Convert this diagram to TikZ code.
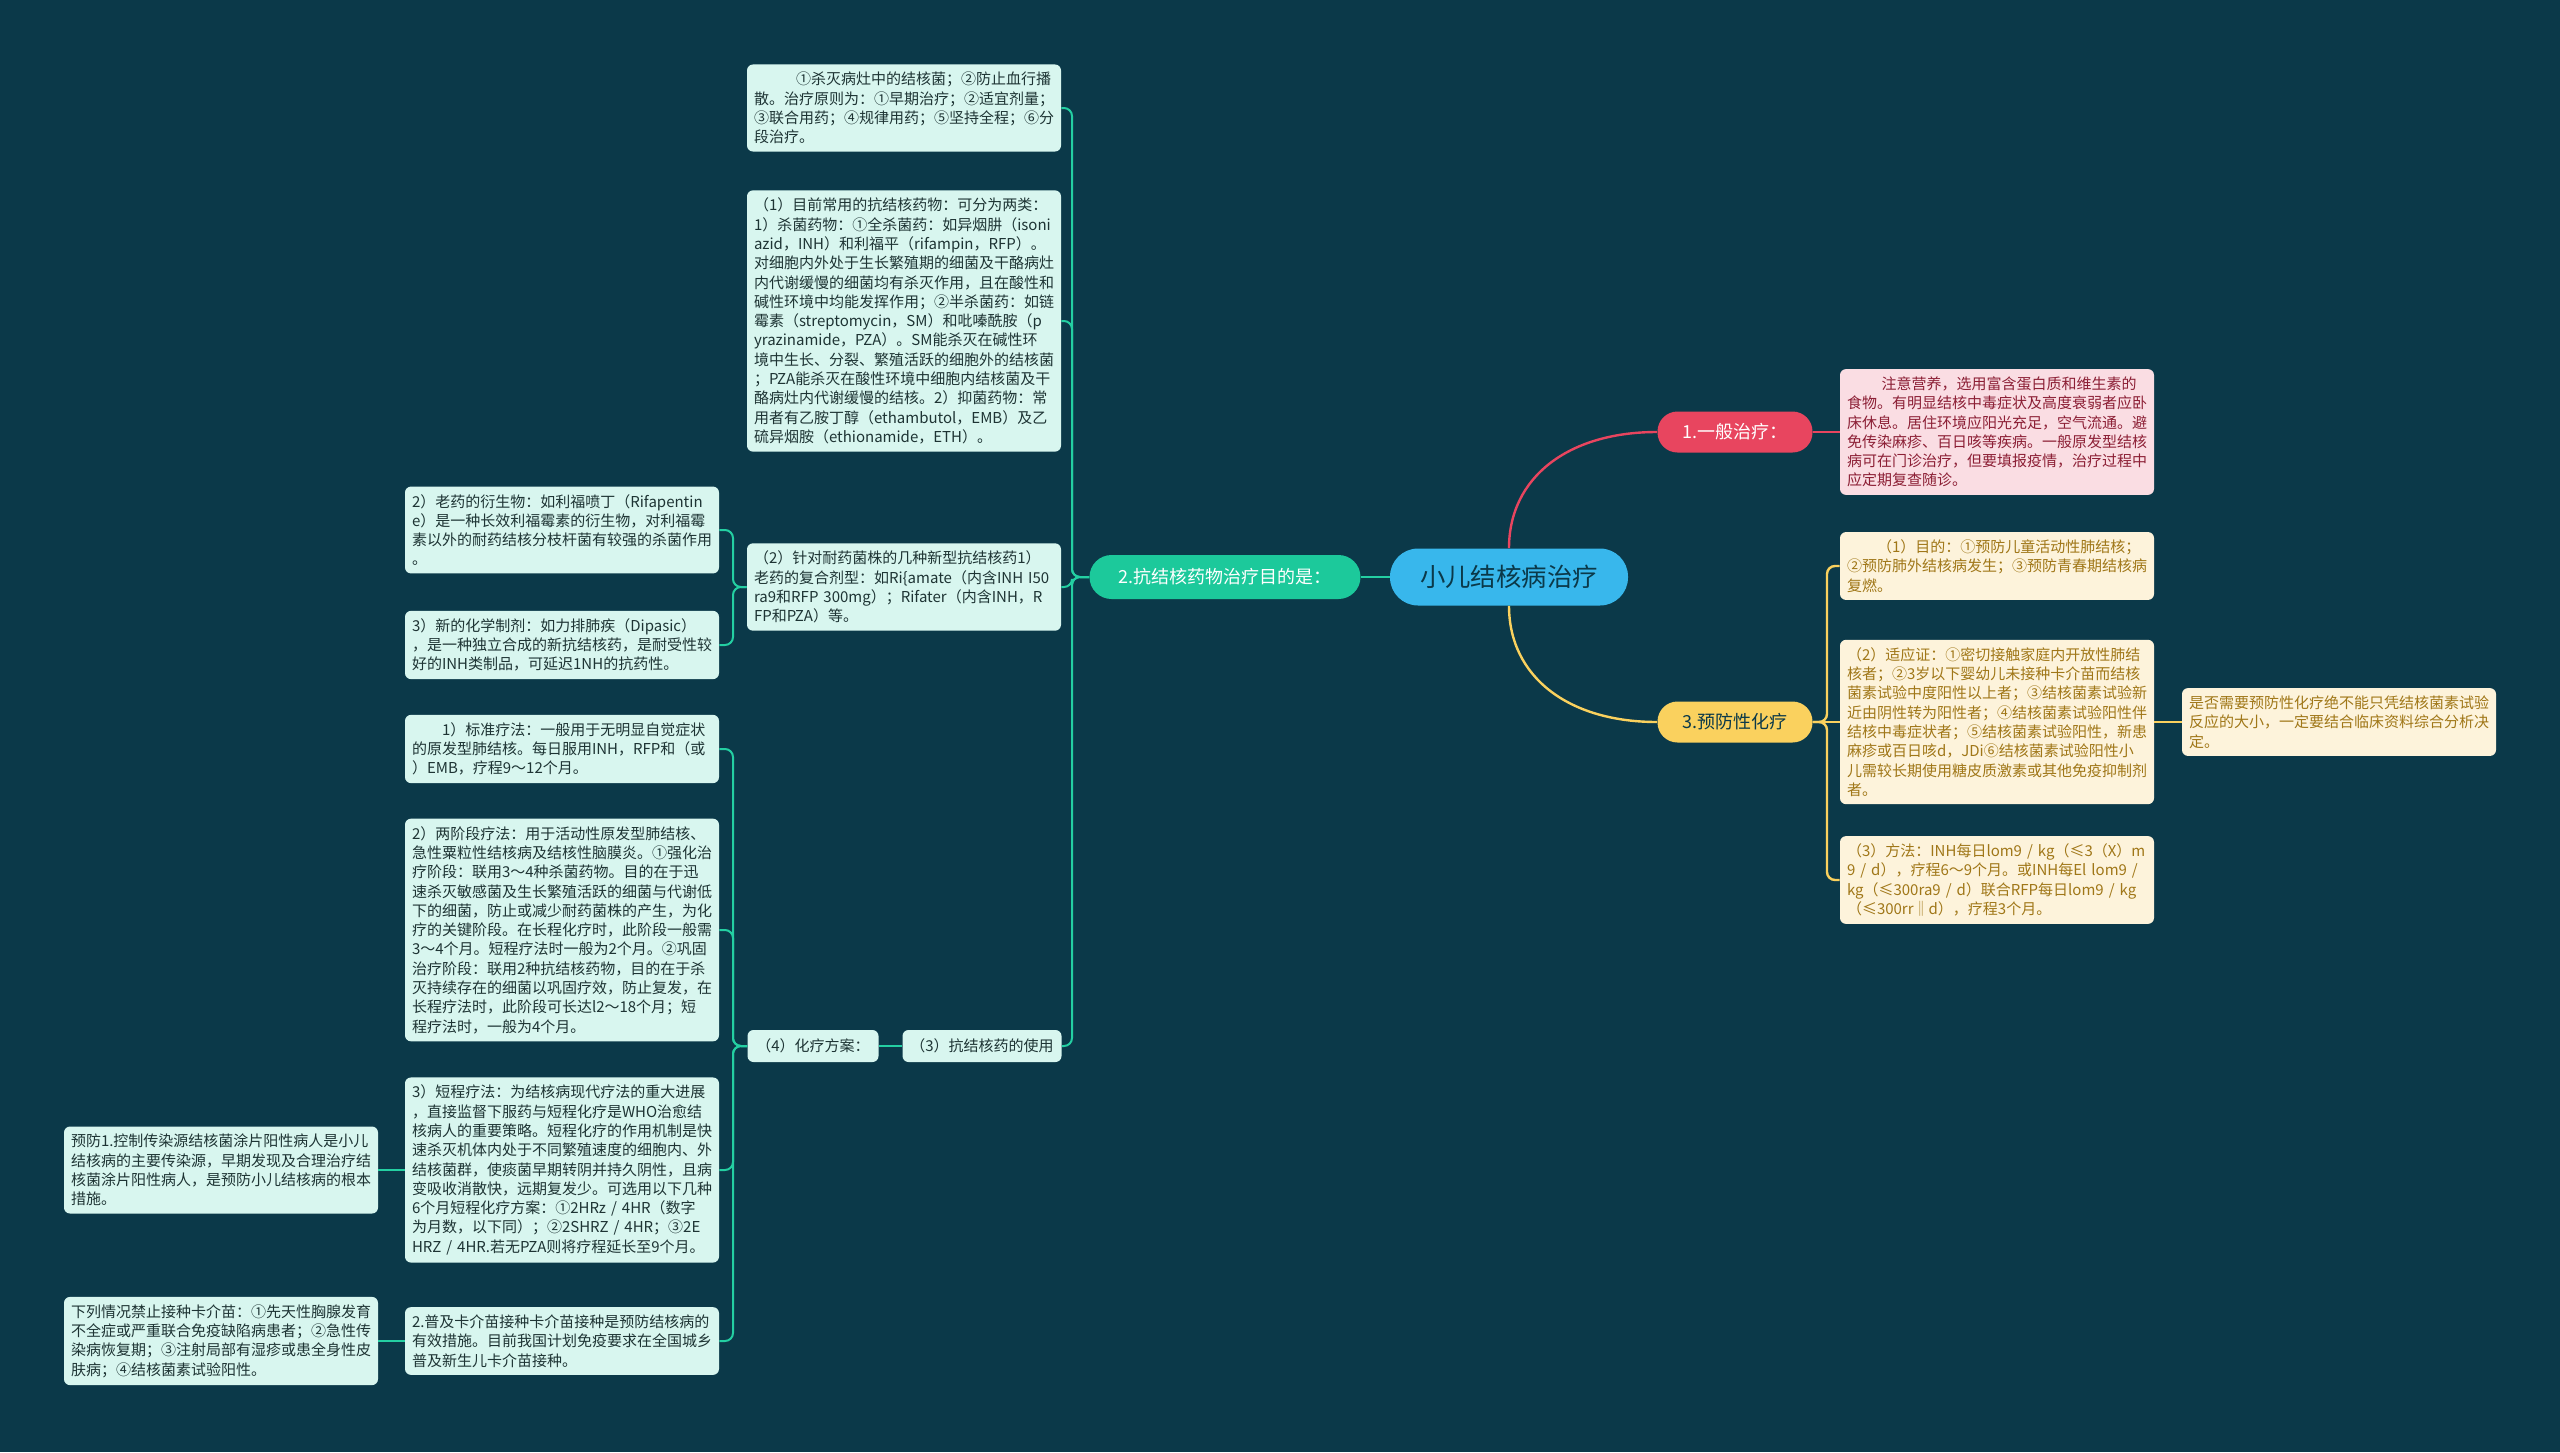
\documentclass[tikz,border=0pt]{standalone}
\usepackage{fontspec}
\setmainfont{Noto Sans CJK SC}
\usetikzlibrary{positioning,calc}
\definecolor{bgdark}{HTML}{0B3949}
\definecolor{rootblue}{HTML}{38B7EC}
\definecolor{rootink}{HTML}{0B3949}
\definecolor{genred}{HTML}{E8455F}
\definecolor{genleaf}{HTML}{FADDE3}
\definecolor{genink}{HTML}{8C1F35}
\definecolor{drugteal}{HTML}{1CC99B}
\definecolor{drugline}{HTML}{24CFA2}
\definecolor{drugleaf}{HTML}{D8F6EF}
\definecolor{drugink}{HTML}{1E3434}
\definecolor{prevgold}{HTML}{FAD15E}
\definecolor{prevleaf}{HTML}{FDF3DB}
\definecolor{prevink}{HTML}{A07718}
\tikzset{
  leaf/.style={rounded corners=3pt, align=left, text width=150pt, inner xsep=3.5pt, inner ysep=3.8pt, font=\fontsize{7.5pt}{9.65pt}\selectfont},
  drugbox/.style={leaf, fill=drugleaf, text=drugink},
  genbox/.style={leaf, fill=genleaf, text=genink},
  prevbox/.style={leaf, fill=prevleaf, text=prevink},
  tag/.style={rounded corners=3pt, fill=drugleaf, text=drugink, inner sep=0pt, minimum height=16pt, font=\fontsize{7.5pt}{9.65pt}\selectfont},
  topic/.style={rounded corners=10pt, inner sep=0pt, minimum width=77.5pt, minimum height=20.5pt, font=\fontsize{9pt}{11pt}\selectfont},
  root/.style={rounded corners=14pt, fill=rootblue, text=rootink, minimum width=119pt, minimum height=28.5pt, font=\fontsize{12.7pt}{15pt}\selectfont},
  drugwire/.style={draw=drugline, line width=1pt, rounded corners=4pt},
  genwire/.style={draw=genred, line width=1.2pt},
  prevwire/.style={draw=prevgold, line width=1.2pt, rounded corners=4pt}
}
\begin{document}
\begin{tikzpicture}[x=0.5pt, y=-0.5pt]
  \fill[bgdark] (0,0) rectangle (2560,1452);
  \useasboundingbox (0,0) rectangle (2560,1452);

  \node[root] (ctr) at (1509,577) {小儿结核病治疗};
  \node[topic, fill=genred, text=white] (gen) at (1735,432) {1.一般治疗：};
  \node[topic, fill=prevgold, text=rootink] (prev) at (1735,722) {3.预防性化疗};
  \node[topic, fill=drugteal, text=white, minimum width=135.5pt, minimum height=22pt, rounded corners=11pt] (drug) at (1225,577) {2.抗结核药物治疗目的是：};

  \node[genbox] (diet) at (1997,432) {\hspace*{2.3em}注意营养，选用富含蛋白质和维生素的\\食物。有明显结核中毒症状及高度衰弱者应卧\\床休息。居住环境应阳光充足，空气流通。避\\免传染麻疹、百日咳等疾病。一般原发型结核\\病可在门诊治疗，但要填报疫情，治疗过程中\\应定期复查随诊。};

  \node[prevbox] (goal) at (1997,566) {\hspace*{2em}（1）目的：①预防儿童活动性肺结核；\\②预防肺外结核病发生；③预防青春期结核病\\复燃。};
  \node[prevbox] (indic) at (1997,722) {（2）适应证：①密切接触家庭内开放性肺结\\核者；②3岁以下婴幼儿未接种卡介苗而结核\\菌素试验中度阳性以上者；③结核菌素试验新\\近由阴性转为阳性者；④结核菌素试验阳性伴\\结核中毒症状者；⑤结核菌素试验阳性，新患\\麻疹或百日咳d，JDi⑥结核菌素试验阳性小\\儿需较长期使用糖皮质激素或其他免疫抑制剂\\者。};
  \node[prevbox] (method) at (1997,880) {（3）方法：INH每日lom9 / kg（≤3（X）m\\9 / d），疗程6～9个月。或INH每El lom9 /\\kg（≤300ra9 / d）联合RFP每日lom9 / kg\\（≤300rr‖d），疗程3个月。};
  \node[prevbox] (note) at (2339,722) {是否需要预防性化疗绝不能只凭结核菌素试验\\反应的大小，一定要结合临床资料综合分析决\\定。};

  \node[drugbox] (aim) at (904,108) {\hspace*{2.8em}①杀灭病灶中的结核菌；②防止血行播\\散。治疗原则为：①早期治疗；②适宜剂量；\\③联合用药；④规律用药；⑤坚持全程；⑥分\\段治疗。};
  \node[drugbox] (kinds) at (904,321) {（1）目前常用的抗结核药物：可分为两类：\\1）杀菌药物：①全杀菌药：如异烟肼（isoni\\azid，INH）和利福平（rifampin，RFP）。\\对细胞内外处于生长繁殖期的细菌及干酪病灶\\内代谢缓慢的细菌均有杀灭作用，且在酸性和\\碱性环境中均能发挥作用；②半杀菌药：如链\\霉素（streptomycin，SM）和吡嗪酰胺（p\\yrazinamide，PZA）。SM能杀灭在碱性环\\境中生长、分裂、繁殖活跃的细胞外的结核菌\\；PZA能杀灭在酸性环境中细胞内结核菌及干\\酪病灶内代谢缓慢的结核。2）抑菌药物：常\\用者有乙胺丁醇（ethambutol，EMB）及乙\\硫异烟胺（ethionamide，ETH）。};
  \node[drugbox] (resist) at (904,587) {（2）针对耐药菌株的几种新型抗结核药1）\\老药的复合剂型：如Ri\{amate（内含INH I50\\ra9和RFP 300mg）；Rifater（内含INH，R\\FP和PZA）等。};
  \node[tag, minimum width=79.5pt] (use) at (982,1046) {（3）抗结核药的使用};
  \node[tag, minimum width=65.5pt] (regimen) at (813,1046) {（4）化疗方案：};

  \node[drugbox] (deriv) at (562,530) {2）老药的衍生物：如利福喷丁（Rifapentin\\e）是一种长效利福霉素的衍生物，对利福霉\\素以外的耐药结核分枝杆菌有较强的杀菌作用\\。};
  \node[drugbox] (newag) at (562,645) {3）新的化学制剂：如力排肺疾（Dipasic）\\，是一种独立合成的新抗结核药，是耐受性较\\好的INH类制品，可延迟1NH的抗药性。};
  \node[drugbox] (std) at (562,749) {\hspace*{2em}1）标准疗法：一般用于无明显自觉症状\\的原发型肺结核。每日服用INH，RFP和（或\\）EMB，疗程9～12个月。};
  \node[drugbox] (twostage) at (562,930) {2）两阶段疗法：用于活动性原发型肺结核、\\急性粟粒性结核病及结核性脑膜炎。①强化治\\疗阶段：联用3～4种杀菌药物。目的在于迅\\速杀灭敏感菌及生长繁殖活跃的细菌与代谢低\\下的细菌，防止或减少耐药菌株的产生，为化\\疗的关键阶段。在长程化疗时，此阶段一般需\\3～4个月。短程疗法时一般为2个月。②巩固\\治疗阶段：联用2种抗结核药物，目的在于杀\\灭持续存在的细菌以巩固疗效，防止复发，在\\长程疗法时，此阶段可长达l2～18个月；短\\程疗法时，一般为4个月。};
  \node[drugbox] (short) at (562,1170) {3）短程疗法：为结核病现代疗法的重大进展\\，直接监督下服药与短程化疗是WHO治愈结\\核病人的重要策略。短程化疗的作用机制是快\\速杀灭机体内处于不同繁殖速度的细胞内、外\\结核菌群，使痰菌早期转阴并持久阴性，且病\\变吸收消散快，远期复发少。可选用以下几种\\6个月短程化疗方案：①2HRz / 4HR（数字\\为月数，以下同）；②2SHRZ / 4HR；③2E\\HRZ / 4HR.若无PZA则将疗程延长至9个月。};
  \node[drugbox] (bcg) at (562,1341) {2.普及卡介苗接种卡介苗接种是预防结核病的\\有效措施。目前我国计划免疫要求在全国城乡\\普及新生儿卡介苗接种。};
  \node[drugbox] (ctrl) at (221,1170) {预防1.控制传染源结核菌涂片阳性病人是小儿\\结核病的主要传染源，早期发现及合理治疗结\\核菌涂片阳性病人，是预防小儿结核病的根本\\措施。};
  \node[drugbox] (contra) at (221,1341) {下列情况禁止接种卡介苗：①先天性胸腺发育\\不全症或严重联合免疫缺陷病患者；②急性传\\染病恢复期；③注射局部有湿疹或患全身性皮\\肤病；④结核菌素试验阳性。};

  \draw[drugwire] (ctr.west) -- (drug.east);
  \draw[genwire] (ctr.north) .. controls +(0,-70) and +(-90,0) .. (gen.west);
  \draw[prevwire] (ctr.south) .. controls +(0,70) and +(-90,0) .. (prev.west);

  \draw[genwire] (gen.east) -- (diet.west);
  \coordinate (pj) at (1827,722);
  \draw[prevwire] (prev.east) -- (pj) |- (goal.west);
  \draw[prevwire] (prev.east) -- (pj) |- (method.west);
  \draw[prevwire] (prev.east) -- (indic.west);
  \draw[prevwire] (indic.east) -- (note.west);

  \coordinate (dj) at (1072,577);
  \foreach \leafname in {aim,kinds,resist,use}
    \draw[drugwire] (drug.west) -- (dj) |- (\leafname.east);
  \coordinate (rj) at (733,587);
  \foreach \leafname in {deriv,newag}
    \draw[drugwire] (resist.west) -- (rj) |- (\leafname.east);
  \draw[drugwire] (use.west) -- (regimen.east);
  \coordinate (gj) at (733,1046);
  \foreach \leafname in {std,twostage,short,bcg}
    \draw[drugwire] (regimen.west) -- (gj) |- (\leafname.east);
  \draw[drugwire] (short.west) -- (ctrl.east);
  \draw[drugwire] (bcg.west) -- (contra.east);
\end{tikzpicture}
\end{document}
